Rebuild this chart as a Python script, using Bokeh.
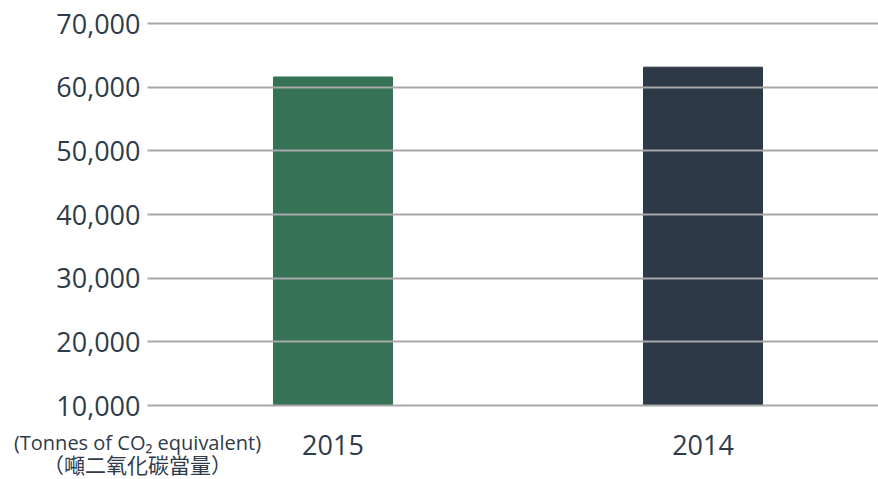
from bokeh.plotting import figure
from bokeh.models import Range1d, FixedTicker, NumeralTickFormatter, Label, ColumnDataSource
from bokeh.embed import file_html
from bokeh.resources import INLINE

years = ["2015", "2014"]
emissions = [61600, 63140]
bar_colors = ["#367356", "#2d3947"]
y_ticks = [10000, 20000, 30000, 40000, 50000, 60000, 70000]
baseline = 10000
unit_en = "(Tonnes of CO₂ equivalent)"
unit_zh = "（噸二氧化碳當量）"

TEXT = "#2f3b49"
FONT = "Open Sans"

pos = list(range(len(years)))
src = ColumnDataSource(dict(x=pos, val=emissions, color=bar_colors))

# The frame fills the whole canvas; both axes sit at fixed locations inside it.
p = figure(x_range=Range1d(-0.8986, 1.4743), y_range=Range1d(-1623, 73613),
           width=878, height=479, output_backend="svg", toolbar_location=None,
           min_border_left=0, min_border_right=0, min_border_top=0, min_border_bottom=0)
p.outline_line_color = None
p.xgrid.visible = False
p.ygrid.visible = False
p.vbar(x="x", top="val", bottom=baseline, width=0.3216, color="color", source=src)

# y axis: labels left of x=147px, tick marks drawn across the frame as grid lines
yax = p.yaxis[0]
yax.fixed_location = -0.5014
yax.ticker = FixedTicker(ticks=y_ticks)
yax.formatter = NumeralTickFormatter(format="0,0")
yax.major_tick_out = 0
yax.major_tick_in = 731
yax.major_tick_line_color = "#a8a8a8"
yax.major_tick_line_width = 2
yax.major_label_standoff = 7

xax = p.xaxis[0]
xax.fixed_location = baseline
xax.ticker = FixedTicker(ticks=pos)
xax.major_label_overrides = {i: y for i, y in zip(pos, years)}
xax.major_tick_line_color = None
xax.major_label_standoff = 23

for ax in (xax, yax):
    ax.axis_line_color = None
    ax.minor_tick_line_color = None
    ax.major_label_text_font = FONT
    ax.major_label_text_font_size = "27px"
    ax.major_label_text_color = TEXT

p.add_layout(Label(x=-0.5284, y=4188, text=unit_en, text_font=FONT, text_font_size="20px",
                   text_color=TEXT, text_align="center", text_baseline="middle"))
p.add_layout(Label(x=-0.5284, y=890, text=unit_zh, text_font="Noto Sans CJK JP", text_font_size="21px",
                   text_color=TEXT, text_align="center", text_baseline="middle"))

open("out.html", "w").write(file_html(p, INLINE))
